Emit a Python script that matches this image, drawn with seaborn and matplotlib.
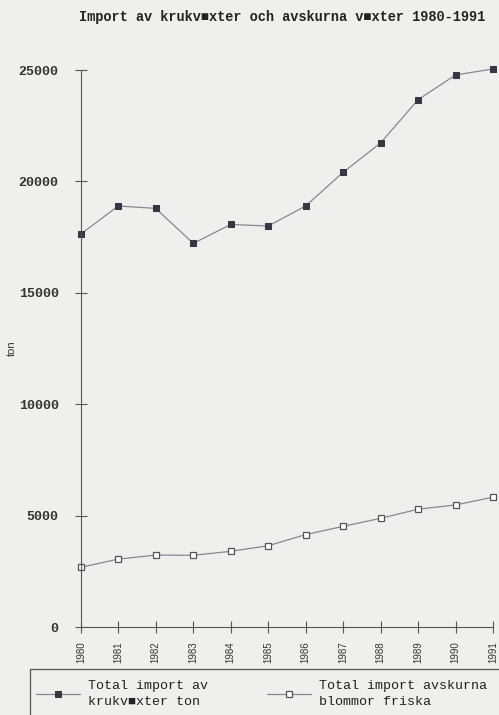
import matplotlib
matplotlib.use("Agg")
import matplotlib.pyplot as plt
import matplotlib.patches as mpatches
import pandas as pd
import seaborn as sns

# Data (ton)
years = list(range(1980, 1992))
krukvaxter = [17640, 18900, 18790, 17220, 18070, 18000, 18900, 20410, 21730, 23670, 24780, 25050]
avskurna = [2680, 3050, 3230, 3220, 3400, 3650, 4150, 4520, 4880, 5290, 5480, 5830]
y_ticks = [0, 5000, 10000, 15000, 20000, 25000]

title = "Import av krukv\u25a0xter och avskurna v\u25a0xter 1980-1991"
label_kruk = "Total import av\nkrukv\u25a0xter ton"
label_avsk = "Total import avskurna\nblommor friska"

df = pd.DataFrame({'year': years, 'kruk': krukvaxter, 'avsk': avskurna})

sns.set_theme(style="white")
mono = ['Liberation Mono', 'DejaVu Sans Mono']
bg = '#efefed'
ink = '#3a3540'
line_col = '#8a8790'

fig = plt.figure(figsize=(4.99, 7.15), dpi=100, facecolor=bg)
ax = fig.add_axes([0.162, 0.123, 0.826, 0.779])
ax.set_facecolor(bg)

sns.lineplot(data=df, x='year', y='kruk', ax=ax, color=line_col, linewidth=0.9,
             marker='s', markersize=5, markerfacecolor=ink, markeredgecolor=ink,
             label=label_kruk, clip_on=False)
sns.lineplot(data=df, x='year', y='avsk', ax=ax, color=line_col, linewidth=0.9,
             marker='s', markersize=5, markerfacecolor='white', markeredgecolor='#55505a',
             markeredgewidth=0.9, label=label_avsk, clip_on=False)

ax.set_xlim(1980, 1991)
ax.set_ylim(0, 25000)
ax.set_xticks(years)
ax.set_xticklabels([str(y) for y in years], rotation=90, fontsize=7,
                   family='Liberation Sans', color='#333333')
ax.set_yticks(y_ticks)
ax.set_yticklabels([str(v) for v in y_ticks], fontsize=9.5, fontweight='bold',
                   family=mono, color='#333333')
ax.tick_params(axis='both', direction='inout', length=8, width=0.8, colors='#555555',
               left=True, bottom=True)
ax.tick_params(axis='y', pad=12, labelcolor='#333333')
ax.tick_params(axis='x', pad=6, labelcolor='#333333')
ax.set_xlabel('')
ax.set_ylabel('')
for side in ['top', 'right']:
    ax.spines[side].set_visible(False)
for side in ['left', 'bottom']:
    ax.spines[side].set_color('#555555')
    ax.spines[side].set_linewidth(0.8)

fig.text(12 / 499, 1 - 348 / 715, 'ton', rotation=90, ha='center', va='center',
         fontsize=8, family='Liberation Sans', color='#333333')
fig.text(282 / 499, 1 - 17 / 715, title, ha='center', va='center',
         fontsize=9.8, fontweight='bold', family=mono, color='#222222')

# legend box running off the page, as in the scan
fig.patches.append(mpatches.Rectangle((30 / 499, -0.05), 1.0, 0.05 + 1 - 669 / 715,
                                      transform=fig.transFigure, fill=False,
                                      edgecolor='#555555', linewidth=0.9))
leg = ax.legend(loc='upper left', bbox_to_anchor=(36 / 499, 1 - 680 / 715),
                bbox_transform=fig.transFigure, ncol=2, frameon=False,
                prop={'family': mono, 'size': 9.6}, handlelength=3.3, handletextpad=0.6,
                columnspacing=4.4, borderaxespad=0, borderpad=0, labelspacing=0.2)
for t in leg.get_texts():
    t.set_linespacing(1.45)
    t.set_color('#222222')

fig.savefig('out.png', dpi=100, facecolor=bg)
